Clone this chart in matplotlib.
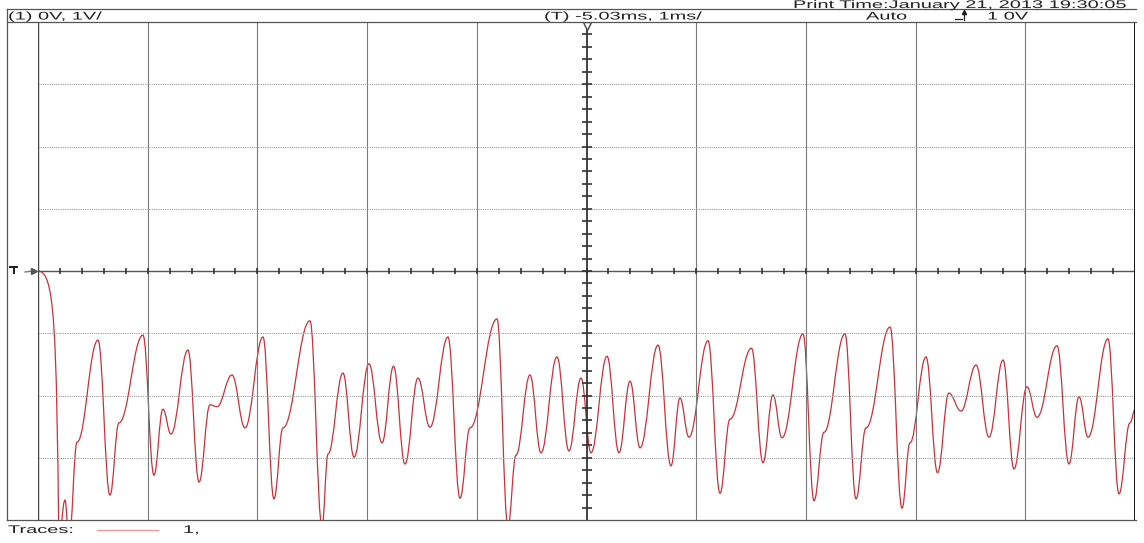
import numpy as np
import matplotlib.pyplot as plt
from matplotlib.path import Path
from matplotlib.patches import PathPatch
from matplotlib.lines import Line2D
from matplotlib.patheffects import AbstractPathEffect
from matplotlib.transforms import Affine2D

# extrema / shoulders of channel 1 (time in ms from left edge, volts)
t_ms = [0.000, 0.190, 0.246, 0.283, 0.356, 0.547, 0.656, 0.738, 0.957, 1.057,
        1.139, 1.212, 1.367, 1.468, 1.568, 1.632, 1.768, 1.887, 2.051, 2.151,
        2.233, 2.479, 2.589, 2.644, 2.780, 2.881, 3.017, 3.136, 3.241, 3.345,
        3.464, 3.573, 3.737, 3.847, 3.938, 4.184, 4.284, 4.357, 4.485, 4.585,
        4.731, 4.840, 4.950, 5.041, 5.187, 5.296, 5.397, 5.488, 5.652, 5.770,
        5.852, 5.934, 6.108, 6.217, 6.308, 6.504, 6.609, 6.700, 6.782, 6.974,
        7.074, 7.165, 7.356, 7.457, 7.548, 7.767, 7.876, 7.949, 8.095, 8.200,
        8.304, 8.414, 8.551, 8.669, 8.797, 8.897, 9.015, 9.107, 9.289, 9.398,
        9.490, 9.572, 9.754, 9.854, 9.954, 10.000]
volts = [0.00, -4.32, -3.68, -4.32, -2.75, -1.11, -3.60, -2.44, -1.03, -3.28,
         -2.22, -2.62, -1.27, -3.39, -2.15, -2.18, -1.67, -2.52, -1.06, -3.66,
         -2.52, -0.80, -4.10, -2.94, -1.64, -2.99, -1.49, -2.76, -1.53, -3.10,
         -1.72, -2.51, -1.06, -3.65, -2.52, -0.77, -4.10, -2.96, -1.67, -2.92,
         -1.38, -2.89, -1.72, -2.92, -1.37, -2.92, -1.77, -2.84, -1.19, -3.13,
         -2.04, -2.67, -1.12, -3.57, -2.38, -1.24, -3.08, -1.99, -2.68, -1.01,
         -3.69, -2.59, -1.01, -3.66, -2.52, -0.90, -3.81, -2.76, -1.38, -3.24,
         -1.96, -2.25, -1.51, -2.67, -1.43, -3.18, -1.86, -2.35, -1.20, -3.10,
         -2.02, -2.67, -1.09, -3.58, -2.44, -2.23]

header_left = '(1) 0V, 1V/'
header_time = '(T) -5.03ms, 1ms/'
header_mode = 'Auto'
header_level = '1 0V'
print_time = 'Print Time:January 21, 2013 19:30:05'

W, H = 1144, 543
TRACE = '#c8323c'


def fx(px):
    return px / W


def fy(py):
    return 1 - py / H


class Widen(AbstractPathEffect):
    """stretch glyphs horizontally about the text origin (printer font look)"""
    def __init__(self, sx):
        super().__init__()
        self.sx = sx

    def draw_path(self, renderer, gc, tpath, affine, rgbFace=None):
        x0 = affine.get_matrix()[0, 2]
        wide = affine + Affine2D().translate(-x0, 0).scale(self.sx, 1).translate(x0, 0)
        renderer.draw_path(gc, tpath, wide, rgbFace)


plt.rcParams['font.family'] = ['Liberation Sans', 'DejaVu Sans']

fig = plt.figure(figsize=(W / 100, H / 100), dpi=100)
ax = fig.add_axes([fx(38), fy(520), fx(1135) - fx(38), fy(22) - fy(520)])
ax.set_xlim(0, 10)
ax.set_ylim(-4, 4)
ax.axis('off')

# graticule
for x in range(1, 10):
    if x != 5:
        ax.axvline(x, color='#7a7a7a', lw=0.8)
for y in [-3, -2, -1, 1, 2, 3]:
    ax.axhline(y, color='#9a9a9a', lw=0.8, ls=(0, (1, 1)))
ax.axhline(0, color='#555555', lw=1.0)
ax.axvline(5, color='#333333', lw=1.3)
ax.axvline(0, color='#444444', lw=1.0)
ax.axvline(10, color='black', lw=2.0)

ticks_x = np.arange(1, 50) * 0.2
ax.plot(ticks_x, np.zeros_like(ticks_x), ls='none', marker='|', ms=4,
        mew=1.2, color='#333333')
ticks_y = np.arange(-19, 20) * 0.2
ax.plot(np.full_like(ticks_y, 5.0), ticks_y, ls='none', marker='_', ms=7,
        mew=1.2, color='#333333')
ax.plot([5], [3.93], ls='none', marker='v', ms=6, mfc='white', mec='#444444', mew=1)

# trace: horizontal tangents at every extremum / shoulder,
# the first fall leaves the ground level slowly, then drops off steeply
verts = [(t_ms[0], volts[0])]
codes = [Path.MOVETO]
for i in range(len(t_ms) - 1):
    dt = t_ms[i + 1] - t_ms[i]
    if i == 0:
        c1 = (t_ms[0] + 0.8 * dt, volts[0])
        c2 = (t_ms[1] - 0.12 * dt, volts[0] + 0.2 * (volts[1] - volts[0]))
    else:
        c1 = (t_ms[i] + 0.4 * dt, volts[i])
        c2 = (t_ms[i + 1] - 0.4 * dt, volts[i + 1])
    verts += [c1, c2, (t_ms[i + 1], volts[i + 1])]
    codes += [Path.CURVE4] * 3
ax.add_patch(PathPatch(Path(verts, codes), fill=False, edgecolor=TRACE, lw=0.9))

# outer frame of the printout
frame = [((7, 9), (1136, 9)), ((7, 22), (1136, 22)), ((7, 520), (1136, 520)),
         ((7, 9), (7, 520))]
for (x0, y0), (x1, y1) in frame:
    fig.add_artist(Line2D([fx(x0), fx(x1)], [fy(y0), fy(y1)], color='#555555', lw=0.9))

txt = dict(fontsize=8, color='#222222', ha='left', va='baseline',
           path_effects=[Widen(1.8)])
fig.text(fx(8), fy(19.5), header_left, **txt)
fig.text(fx(544), fy(19.5), header_time, **txt)
fig.text(fx(866), fy(19.5), header_mode, **txt)
fig.text(fx(987), fy(19.5), header_level, **txt)
fig.text(fx(793), fy(8), print_time, **txt)

# trigger edge symbol
fig.add_artist(Line2D([fx(955), fx(962)], [fy(19), fy(19)], color='#222222', lw=0.9))
fig.add_artist(Line2D([fx(964), fx(964)], [fy(20), fy(12)], color='#222222', lw=0.9))
fig.add_artist(Line2D([fx(964)], [fy(12)], marker='^', ms=3, color='#222222', ls='none'))

# trigger level marker on the left
fig.text(fx(9), fy(271), 'T', fontsize=8, fontweight='bold', color='#222222',
         ha='left', va='center', path_effects=[Widen(1.4)])
fig.add_artist(Line2D([fx(25), fx(33)], [fy(272), fy(271)], color='#777777', lw=1))
fig.add_artist(Line2D([fx(34)], [fy(271)], marker='>', ms=4, color='#555555', ls='none'))

# trace legend
fig.text(fx(8), fy(533), 'Traces:', **txt)
fig.add_artist(Line2D([fx(97), fx(158)], [fy(530), fy(530)], color='#e49a9a', lw=1))
fig.text(fx(183), fy(533), '1,', **txt)

fig.savefig('out.png', dpi=100)
